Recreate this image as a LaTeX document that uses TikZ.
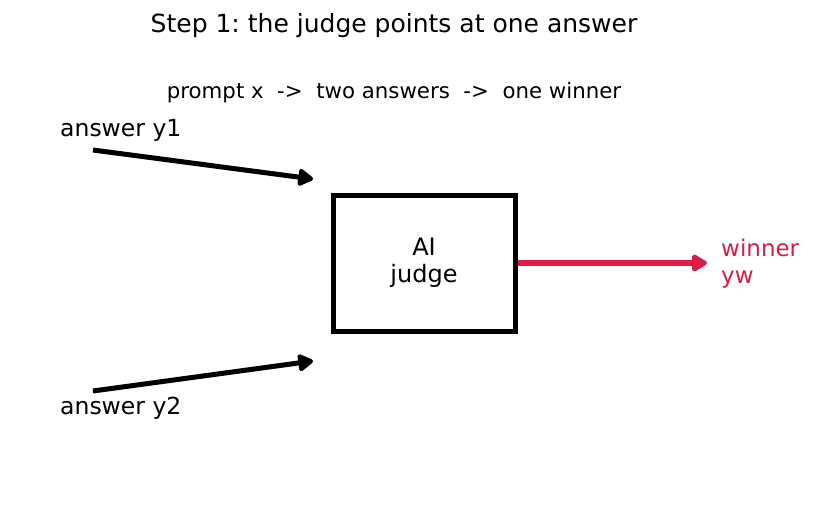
\documentclass[tikz,border=0pt]{standalone}
\usepackage{fontspec}
\setmainfont{DejaVu Sans}
\usetikzlibrary{arrows.meta, positioning}

\definecolor{winred}{RGB}{220,28,68}
\frenchspacing

\begin{document}
\begin{tikzpicture}[x=1pt, y=-1pt,
		title/.style={anchor=base, font=\fontsize{25}{29}\selectfont},
		subtitle/.style={anchor=base, font=\fontsize{21.3}{25}\selectfont},
		answer/.style={anchor=base west, inner sep=0pt, font=\fontsize{23.5}{27}\selectfont},
		judgebox/.style={draw, line width=5pt, minimum width=182pt, minimum height=136pt, align=center, font=\fontsize{24}{27}\selectfont},
		feed/.style={line width=5pt, -{Triangle[length=17pt,width=19pt,round]}},
		pick/.style={feed, line width=5.5pt, color=winred}]
		\useasboundingbox (0,0) rectangle (813,511);
		% headings
		\node[title] (heading) at (394,33) {Step 1: the judge points at one answer};
		\node[subtitle] (flow) at (394,98) {prompt x\ \ ->\ \ two answers\ \ ->\ \ one winner};
		% the judge
		\node[judgebox] (judge) at (424,263) {AI\\judge};
		% the two answers
		\node[answer] (ans1) at (60,136) {answer y1};
		\node[answer] (ans2) at (60,414) {answer y2};
		\coordinate (ans1start) at (93,150);
		\coordinate (ans1end) at (313,179);
		\coordinate (ans2start) at (93,391);
		\coordinate (ans2end) at (313,361);
		\draw[feed] (ans1start) -- (ans1end);
		\draw[feed] (ans2start) -- (ans2end);
		% winner
		\coordinate (winend) at (707,263);
		\node[answer, align=left, anchor=north west, text=winred, font=\fontsize{23}{27}\selectfont] (winner) at (721,239) {winner\\yw};
		\draw[pick] (judge.east) -- (winend);
	\end{tikzpicture}
\end{document}
